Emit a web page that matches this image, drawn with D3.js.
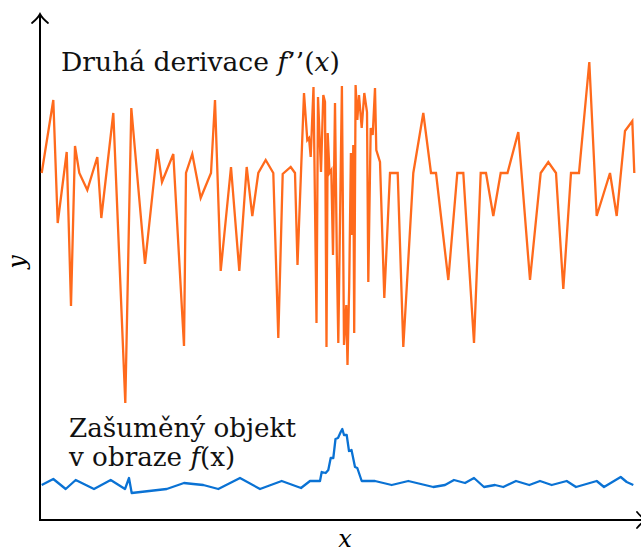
<!DOCTYPE html>
<html>
<head>
<meta charset="utf-8">
<script src="https://cdn.jsdelivr.net/npm/d3@7/dist/d3.min.js"></script>
<style>
  html, body { margin: 0; padding: 0; background: #fff; }
  svg { display: block; }
</style>
</head>
<body>
<svg id="chart" width="641" height="553"></svg>
<script>
// Sample positions (x) and values (y) of the second derivative f''(x)
const d2X = [1.7, 13.3, 17.7, 26.7, 31, 35, 39.3, 47.3, 57.3, 61.3, 73.3, 85.3, 91.3, 105, 117.3, 122, 133.3, 144, 146, 152.3,
  160.7, 171, 175, 180.7, 191, 199.3, 206.7, 212.3, 218.3, 225.7, 233.3, 238.3, 242.7, 250.7, 255, 257.5, 264, 267.3, 269, 270.7,
  273.5, 276.5, 278, 281, 283.3, 285, 286.5, 287.7, 289.5, 291.3, 293, 295, 296.8, 298.3, 301.9, 304, 306.3, 307.5, 309.2, 310.9,
  312, 313.3, 314.2, 315.6, 317.3, 319, 321.7, 324.3, 327, 328.3, 330.7, 332.7, 335, 336.3, 340, 344.3, 350, 357.7, 363.3, 373.3,
  383.3, 391, 396, 408.3, 417.3, 423.3, 434, 440.7, 446, 453.3, 460.7, 467.5, 478.3, 490, 500.7, 508.3, 516, 523.3, 531, 539,
  549.3, 556.7, 570, 576.7, 585, 592.3, 594.3];
const d2Y = [347, 420, 297, 368, 214, 374, 347, 330, 363, 302, 407, 117, 412, 256, 371, 338, 366, 174, 347, 366,
  322, 347, 420, 249, 353, 249, 353, 304, 347, 360, 347, 182, 346, 353, 347, 255, 427, 380, 382, 363,
  433, 197, 423, 348, 425, 418, 173, 387, 347, 350, 265, 417, 265, 177, 434, 175, 215, 155, 234, 367,
  285, 375, 187, 435, 400, 425, 392, 427, 408, 238, 392, 385, 432, 370, 358, 222, 347, 347, 173, 347,
  407, 347, 347, 240, 347, 347, 177, 347, 347, 304, 347, 347, 388, 240, 347, 358, 347, 231, 347, 347,
  458, 304, 347, 304, 389, 399, 347];

// Sample positions (x) and values (y) of the noisy object f(x)
const fX = [1.7, 13.3, 25.7, 35.7, 54, 70.7, 85, 89, 91.7, 126.7, 144, 153.3, 163.3, 178.3, 200, 220, 241.7, 261, 270, 280,
  281.7, 285.7, 288.3, 290.7, 293.3, 295.5, 298, 300.7, 302.3, 304, 306.7, 309, 311.5, 315, 317.3, 321.7, 335, 351.7, 368.3, 393.3,
  405, 414, 425, 434, 444, 455, 463.3, 476, 489.3, 500, 511.7, 526.7, 536, 556.7, 564, 580.7, 586.7, 593.3];
const fY = [35, 41, 31, 40, 31, 40, 31, 42, 27, 31, 37, 36, 35, 31, 42, 31, 39, 32, 39, 39,
  48, 47, 50, 62, 62, 81, 82, 88, 91, 85, 85, 69, 70, 53, 52, 39, 39, 35, 39, 33,
  35, 40, 37, 42, 33, 35, 33, 39, 35, 39, 35, 39, 33, 39, 33, 43, 38, 35];

// Text labels
const titleD2 = ["Druhá derivace ", "f", "’’(", "x", ")"];
const titleF = ["Zašuměný objekt", "v obraze ", "f", "(x)"];
const axisLabels = { x: "x", y: "y" };

const FONT = "'DejaVu Serif', 'Liberation Serif', serif";
const svg = d3.select("#chart");
const x = d3.scaleLinear().domain([0, 600]).range([40, 640]);
const y = d3.scaleLinear().domain([0, 505]).range([520, 15]);

const line = d3.line().x(d => x(d[0])).y(d => y(d[1]));

// Axes with open arrowheads
const axisG = svg.append("g").attr("stroke", "#000").attr("stroke-width", 2).attr("fill", "none");
const x0 = x(0), y0 = y(0), yTop = y(506), xEnd = x(606);
axisG.append("line").attr("x1", x0).attr("y1", y0 + 1).attr("x2", x0).attr("y2", yTop);
axisG.append("line").attr("x1", x0 - 1).attr("y1", y0).attr("x2", xEnd).attr("y2", y0);
axisG.append("path").attr("stroke-width", 1.8).attr("stroke-linecap", "round")
  .attr("d", `M${x0 - 8},${yTop + 9} Q${x0 - 2},${yTop + 4} ${x0},${yTop} Q${x0 + 2},${yTop + 4} ${x0 + 8},${yTop + 9}`);
axisG.append("path").attr("stroke-width", 1.8).attr("stroke-linecap", "round")
  .attr("d", `M${xEnd - 9},${y0 - 8} Q${xEnd - 4},${y0 - 2} ${xEnd},${y0} Q${xEnd - 4},${y0 + 2} ${xEnd - 9},${y0 + 8}`);

// Series
svg.append("path")
  .datum(d2X.map((v, i) => [v, d2Y[i]]))
  .attr("d", line)
  .attr("fill", "none")
  .attr("stroke", "#ff6a1c")
  .attr("stroke-width", 2.3)
  .attr("stroke-linejoin", "miter");

svg.append("path")
  .datum(fX.map((v, i) => [v, fY[i]]))
  .attr("d", line)
  .attr("fill", "none")
  .attr("stroke", "#0a72d4")
  .attr("stroke-width", 2.3)
  .attr("stroke-linejoin", "round");

// Labels
function label(xp, yp, parts, fs) {
  const t = svg.append("text").attr("x", xp).attr("y", yp)
    .attr("font-family", FONT).attr("font-size", fs).attr("fill", "#111");
  parts.forEach(([s, it]) => t.append("tspan").attr("font-style", it ? "italic" : null).text(s));
  return t;
}
// fit a label to a given width by adjusting its font size
function fit(t, w) {
  const cur = t.node().getComputedTextLength();
  const fs = +t.attr("font-size");
  t.attr("font-size", (fs * w / cur).toFixed(2));
}
const a = label(61, 71, [[titleD2[0]], [titleD2[1], 1], [titleD2[2]], [titleD2[3], 1], [titleD2[4]]], 24);
fit(a, 279);
const b = label(69, 437, [[titleF[0]]], 24);
fit(b, 227);
const c = label(69, 466, [[titleF[1]], [titleF[2], 1], [titleF[3]]], 24);
c.attr("font-size", b.attr("font-size"));

svg.append("text").attr("x", 345).attr("y", 547).attr("font-size", 24).attr("font-family", FONT)
  .attr("font-style", "italic").attr("text-anchor", "middle").text(axisLabels.x);
svg.append("text").attr("transform", "translate(25,262) rotate(-90)").attr("font-size", 24).attr("font-family", FONT)
  .attr("font-style", "italic").attr("text-anchor", "middle").text(axisLabels.y);
</script>
</body>
</html>
